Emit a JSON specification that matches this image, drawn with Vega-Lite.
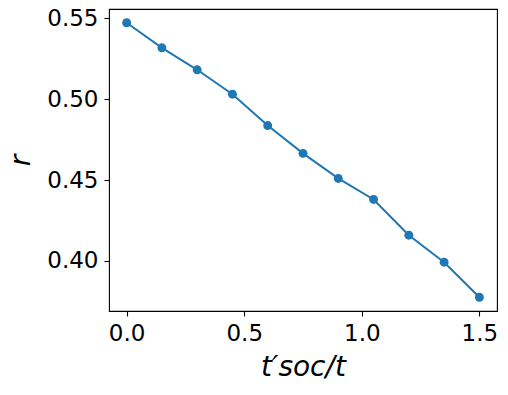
{
  "$schema": "https://vega.github.io/schema/vega-lite/v6.json",
  "autosize": {"type": "none"},
  "width": 388,
  "height": 302,
  "padding": {"left": 109, "top": 9, "right": 11, "bottom": 84},
  "background": "white",
  "config": {
    "view": {"stroke": "black", "strokeWidth": 1.1},
    "axis": {
      "grid": false,
      "domain": false,
      "tickColor": "black",
      "tickSize": 5,
      "tickWidth": 1.1,
      "labelFont": "DejaVu Sans",
      "labelFontSize": 23,
      "labelColor": "black",
      "labelPadding": 6,
      "titleFont": "DejaVu Sans",
      "titleFontSize": 28,
      "titleFontWeight": "normal",
      "titleFontStyle": "italic",
      "titleColor": "black"
    }
  },
  "data": {
    "values": [
      {"x": 0.0, "r": 0.5473},
      {"x": 0.15, "r": 0.5318},
      {"x": 0.3, "r": 0.5182},
      {"x": 0.45, "r": 0.5031},
      {"x": 0.6, "r": 0.4837},
      {"x": 0.75, "r": 0.4665},
      {"x": 0.9, "r": 0.451},
      {"x": 1.05, "r": 0.438},
      {"x": 1.2, "r": 0.4159},
      {"x": 1.35, "r": 0.3992},
      {"x": 1.5, "r": 0.3775}
    ]
  },
  "encoding": {
    "x": {
      "field": "x", "type": "quantitative",
      "scale": {"domain": [-0.075, 1.575], "nice": false, "zero": false},
      "axis": {"values": [0, 0.5, 1.0, 1.5], "format": ".1f", "title": "t′ꜱᴏᴄ/t", "titlePadding": 8}
    },
    "y": {
      "field": "r", "type": "quantitative",
      "scale": {"domain": [0.369, 0.5558], "nice": false, "zero": false},
      "axis": {"values": [0.4, 0.45, 0.5, 0.55], "format": ".2f", "title": "r", "titlePadding": 11}
    }
  },
  "layer": [
    {"mark": {"type": "line", "color": "#1f77b4", "strokeWidth": 2}},
    {"mark": {"type": "point", "filled": true, "color": "#1f77b4", "opacity": 1, "size": 80}}
  ]
}
